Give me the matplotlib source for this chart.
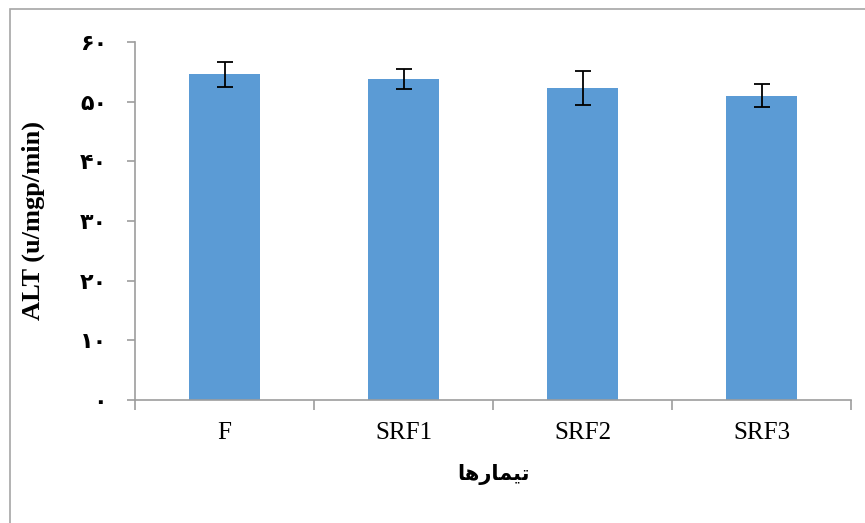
import matplotlib
matplotlib.use("Agg")
import matplotlib.pyplot as plt
from matplotlib.patches import Rectangle

# Data
categories = ["F", "SRF1", "SRF2", "SRF3"]
alt_means = [54.6, 53.8, 52.3, 51.0]
alt_errors = [2.1, 1.7, 2.8, 1.9]
y_ticks = [0, 10, 20, 30, 40, 50, 60]
y_tick_labels = ["\u06f0", "\u06f1\u06f0", "\u06f2\u06f0", "\u06f3\u06f0",
                 "\u06f4\u06f0", "\u06f5\u06f0", "\u06f6\u06f0"]
# "تیمارها" in shaped presentation forms, visual (left-to-right) order
x_title = "\ufe8e\ufeeb\ufead\ufe8e\ufee4\ufbff\ufe97"
y_title = "ALT (u/mgp/min)"

W, H = 865, 523
fig = plt.figure(figsize=(W / 100, H / 100), dpi=100)
fig.patch.set_facecolor("white")

# chart-area border
fig.add_artist(Rectangle((10 / W, 0 - 0.01), 1.0, (H - 9) / H + 0.01,
                         transform=fig.transFigure, fill=False,
                         edgecolor="#a6a6a6", linewidth=1.2))

ax = fig.add_axes([135 / W, (H - 400) / H, (851 - 135) / W, (400 - 42) / H])
x = list(range(len(categories)))
ax.bar(x, alt_means, width=0.4, color="#5b9bd5", zorder=2)
ax.errorbar(x, alt_means, yerr=alt_errors, fmt="none", ecolor="black",
            elinewidth=1.3, capsize=6, capthick=1.3, zorder=3)

ax.set_xlim(-0.5, len(categories) - 0.5)
ax.set_ylim(0, 60)

for s in ["top", "right"]:
    ax.spines[s].set_visible(False)
for s in ["left", "bottom"]:
    ax.spines[s].set_color("#9d9d9d")
    ax.spines[s].set_linewidth(1.2)

ax.set_yticks(y_ticks)
ax.set_yticklabels(y_tick_labels, fontfamily="DejaVu Sans", fontweight="bold",
                   fontsize=16)
ax.tick_params(axis="y", direction="out", length=6, width=1.2, color="#9d9d9d",
               pad=14)

# category ticks sit between the bars
ax.set_xticks([i - 0.5 for i in range(len(categories) + 1)])
ax.set_xticklabels([])
ax.set_xticks(x, minor=True)
ax.set_xticklabels(categories, minor=True, fontfamily="Liberation Serif",
                   fontsize=18)
ax.tick_params(axis="x", which="major", direction="out", length=7, width=1.2,
               color="#9d9d9d")
ax.tick_params(axis="x", which="minor", length=0, pad=16)

ax.set_ylabel(y_title, fontfamily="Liberation Serif", fontweight="bold",
              fontsize=19)
ax.yaxis.set_label_coords(-0.126, 0.5)
ax.set_xlabel(x_title, fontfamily="DejaVu Sans", fontweight="bold",
              fontsize=15, labelpad=14)

fig.savefig("out.png", dpi=100)
